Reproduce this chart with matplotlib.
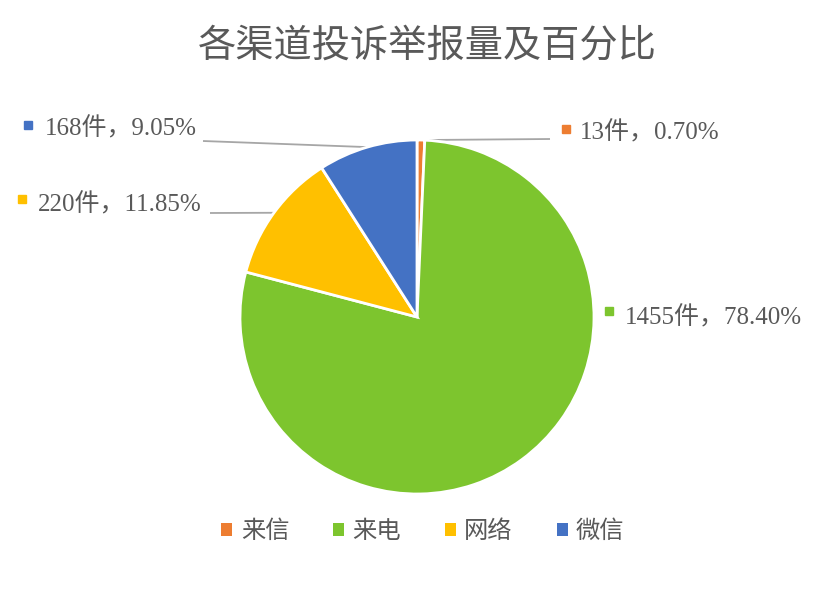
import numpy as np
import matplotlib
matplotlib.use("Agg")
import matplotlib.pyplot as plt
from matplotlib.patches import Patch

plt.rcParams['font.family'] = ['Noto Sans CJK SC', 'DejaVu Sans']

title = "各渠道投诉举报量及百分比"
categories = ["来信", "来电", "网络", "微信"]
counts = [13, 1455, 220, 168]
percents = ["0.70%", "78.40%", "11.85%", "9.05%"]
colors = ["#ED7D31", "#7DC52E", "#FFC000", "#4472C4"]

W, H = 821, 602
fig = plt.figure(figsize=(W / 100, H / 100), dpi=100)
ax = fig.add_axes([0, 0, 1, 1])

cx, cy, r = 417, H - 317, 177
wedges, _ = ax.pie(counts, colors=colors, startangle=90, counterclock=False,
                   center=(cx, cy), radius=r,
                   wedgeprops=dict(edgecolor="white", linewidth=2))
ax.set_xlim(0, W)
ax.set_ylim(0, H)
ax.set_aspect("equal")
ax.axis("off")

text_color = "#595959"
line_color = "#A6A6A6"
label_font = ['Liberation Serif', 'Noto Sans CJK SC']

# label layout: (marker x, marker y, text x, text y, leader end x, leader end y or None)
layout = {
    0: (566, 129, 580, 133, 550, 139),
    1: (609, 311, 625, 318, None, None),
    2: (22, 199, 38, 205, 210, 213),
    3: (28, 125, 45, 129, 203, 141),
}

for i, w in enumerate(wedges):
    mx, my, tx, ty, lx, ly = layout[i]
    ang = np.deg2rad((w.theta1 + w.theta2) / 2)
    ex, ey = cx + r * np.cos(ang), cy + r * np.sin(ang)
    if lx is not None:
        ax.plot([lx, ex], [H - ly, ey], color=line_color, lw=1.3,
                solid_capstyle="butt", zorder=0.5)
    ax.plot([mx], [H - my], marker="s", markersize=5.5, color=colors[i],
            linestyle="none")
    ax.text(tx, H - ty, f"{counts[i]}件，{percents[i]}", fontsize=18,
            family=label_font, color=text_color, ha="left", va="center")

ax.text(427, H - 46, title, fontsize=27.5, color=text_color,
        ha="center", va="center")

handles = [Patch(facecolor=c, edgecolor="none") for c in colors]
leg = fig.legend(handles, categories, loc="center",
                 bbox_to_anchor=(423 / W, 1 - 531 / H), ncol=4, frameon=False,
                 fontsize=17.5, handlelength=0.45, handleheight=0.45,
                 handletextpad=0.35, columnspacing=1.8)
for t in leg.get_texts():
    t.set_color(text_color)

fig.savefig("out.png", dpi=100)
